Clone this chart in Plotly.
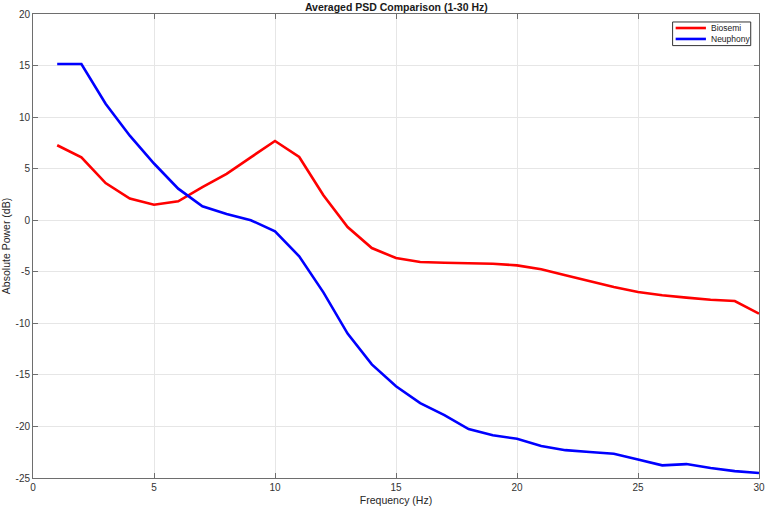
import plotly.graph_objects as go

freq = list(range(1, 31))
biosemi = [7.27, 6.1, 3.6, 2.1, 1.5, 1.83, 3.2, 4.5, 6.1, 7.68,
           6.13, 2.42, -0.66, -2.70, -3.67, -4.05, -4.12, -4.18, -4.22, -4.38,
           -4.76, -5.34, -5.92, -6.48, -6.96, -7.28, -7.51, -7.72, -7.84, -9.06]
neuphony = [15.15, 15.15, 11.3, 8.2, 5.5, 3.06, 1.35, 0.6, 0.0, -1.08,
            -3.5, -7.0, -11.0, -13.98, -16.1, -17.73, -18.9, -20.25, -20.86, -21.2,
            -21.9, -22.3, -22.48, -22.64, -23.2, -23.77, -23.65, -24.03, -24.33, -24.52]

series_names = ["Biosemi", "Neuphony"]
series_colors = ["#ff0000", "#0000ff"]

x_ticks = [0, 5, 10, 15, 20, 25, 30]
y_ticks = [-25, -20, -15, -10, -5, 0, 5, 10, 15, 20]

font = "Liberation Sans, Arial, sans-serif"
fig = go.Figure()
for name, vals, col in zip(series_names, [biosemi, neuphony], series_colors):
    fig.add_trace(go.Scatter(x=freq, y=vals, mode="lines", name=name,
                             line=dict(color=col, width=2.6), showlegend=False))

axis_common = dict(showline=True, linecolor="#6e6e6e", linewidth=1, mirror="ticks",
                   ticks="inside", ticklen=5, tickcolor="#6e6e6e", automargin=False,
                   showgrid=True, gridcolor="#e6e6e6", gridwidth=1, zeroline=False,
                   tickfont=dict(family=font, size=10, color="#333333"))

# compact MATLAB-style legend box (paper coordinates)
lx0, lx1, ly0, ly1 = 0.881, 0.9886, 0.9319, 0.9828
shapes = [dict(type="rect", xref="paper", yref="paper", x0=lx0, x1=lx1, y0=ly0, y1=ly1,
               line=dict(color="#333333", width=1), fillcolor="white", layer="above")]
annotations = []
rows_y = [0.9698, 0.9462]
for name, col, ry in zip(series_names, series_colors, rows_y):
    shapes.append(dict(type="line", xref="paper", yref="paper", x0=0.8852, x1=0.9269,
                       y0=ry, y1=ry, line=dict(color=col, width=2.6), layer="above"))
    annotations.append(dict(xref="paper", yref="paper", x=0.9310, y=ry, text=name,
                            showarrow=False, xanchor="left", yanchor="middle",
                            font=dict(family=font, size=8.5, color="#1a1a1a")))

fig.update_layout(
    width=767, height=511,
    margin=dict(l=33, r=8, t=14, b=33),
    paper_bgcolor="white", plot_bgcolor="white",
    font=dict(family=font, size=10, color="#262626"),
    title=dict(text="<b>Averaged PSD Comparison (1-30 Hz)</b>", x=0.5167, xanchor="center",
               y=0.986, yanchor="middle", yref="container",
               font=dict(family=font, size=10.5, color="#1a1a1a")),
    xaxis=dict(range=[0, 30], tickvals=x_ticks, ticktext=[str(v) for v in x_ticks],
               title=dict(text="Frequency (Hz)", standoff=4,
                          font=dict(family=font, size=10.5, color="#262626")),
               **axis_common),
    yaxis=dict(range=[-25, 20], tickvals=y_ticks, ticktext=[str(v) for v in y_ticks],
               title=dict(text="Absolute Power (dB)", standoff=4,
                          font=dict(family=font, size=10.5, color="#262626")),
               **axis_common),
    shapes=shapes,
    annotations=annotations,
    showlegend=False,
)

fig.write_html("out.html")
